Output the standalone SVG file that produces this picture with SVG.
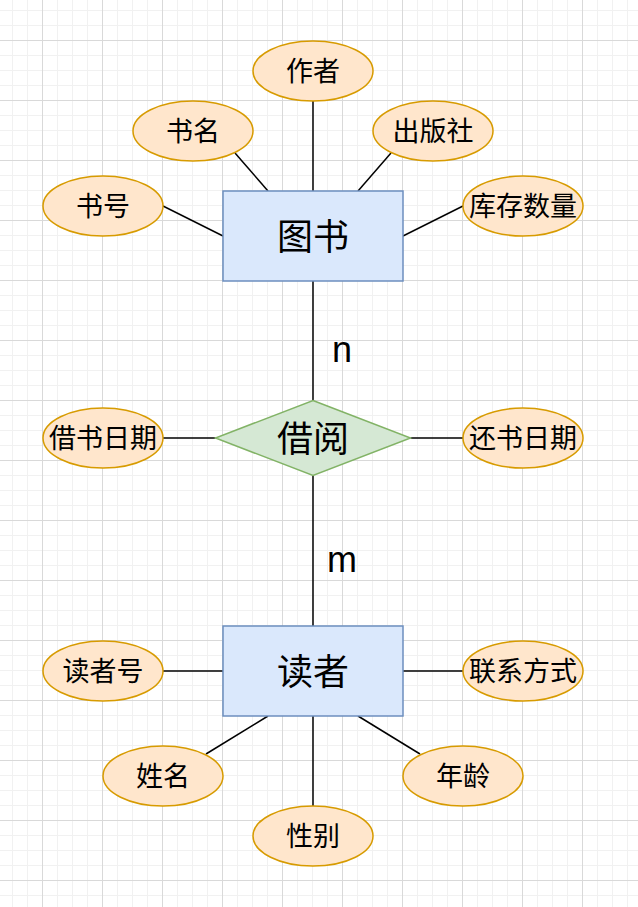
<svg xmlns="http://www.w3.org/2000/svg" width="638" height="907" viewBox="0 0 638 907">
  <defs>
    <pattern id="gridMinor" patternUnits="userSpaceOnUse" x="12" y="10" width="15" height="15">
      <rect x="0" y="0" width="1" height="15" fill="#f1f1f1"/>
      <rect x="0" y="0" width="15" height="1" fill="#f1f1f1"/>
    </pattern>
    <pattern id="gridMajor" patternUnits="userSpaceOnUse" x="42" y="40" width="60" height="60">
      <rect x="0" y="0" width="1" height="60" fill="#d9d9d9"/>
      <rect x="0" y="0" width="60" height="1" fill="#d9d9d9"/>
    </pattern>
  </defs>
  <style>
    .attr { fill: #ffe6cc; stroke: #d79b00; stroke-width: 1.5; }
    .entity { fill: #dae8fc; stroke: #6c8ebf; stroke-width: 1.5; }
    .rel { fill: #d5e8d4; stroke: #82b366; stroke-width: 1.5; }
    .edge { stroke: #000000; stroke-width: 1.5; fill: none; }
    .t { font-family: "Noto Sans CJK SC", "Liberation Sans", sans-serif; fill: #000000; text-anchor: middle; }
    .ts { font-size: 27px; }
    .tl { font-size: 36px; }
    .lbl { font-family: "Liberation Sans", Arial, sans-serif; font-size: 36px; fill: #000000; text-anchor: middle; }
  </style>
  <rect x="0" y="0" width="638" height="907" fill="#ffffff"/>
  <rect x="0" y="0" width="638" height="907" fill="url(#gridMinor)"/>
  <rect x="0" y="0" width="638" height="907" fill="url(#gridMajor)"/>

  <g id="connectors">
    <line class="edge" x1="313" y1="101" x2="313" y2="191"/>
    <line class="edge" x1="235" y1="153" x2="268" y2="191"/>
    <line class="edge" x1="391" y1="153" x2="358" y2="191"/>
    <line class="edge" x1="163" y1="206" x2="223" y2="236"/>
    <line class="edge" x1="463" y1="206" x2="403" y2="236"/>
    <line class="edge" x1="313" y1="281" x2="313" y2="400.5"/>
    <line class="edge" x1="313" y1="475.5" x2="313" y2="626"/>
    <line class="edge" x1="163" y1="438" x2="215.5" y2="438"/>
    <line class="edge" x1="410.5" y1="438" x2="463" y2="438"/>
    <line class="edge" x1="163" y1="671" x2="223" y2="671"/>
    <line class="edge" x1="403" y1="671" x2="463" y2="671"/>
    <line class="edge" x1="206" y1="754" x2="268" y2="716"/>
    <line class="edge" x1="420" y1="754" x2="358" y2="716"/>
    <line class="edge" x1="313" y1="716" x2="313" y2="806"/>
    <text class="lbl" x="342" y="361.5">n</text>
    <text class="lbl" x="342" y="571.5">m</text>
  </g>

  <g id="book">
    <rect class="entity" x="223" y="191" width="180" height="90"/>
    <text class="t tl" x="313" y="249.5">图书</text>
  </g>
  <g id="borrow">
    <polygon class="rel" points="313,400.5 410.5,438 313,475.5 215.5,438"/>
    <text class="t tl" x="313" y="451.5">借阅</text>
  </g>
  <g id="reader">
    <rect class="entity" x="223" y="626" width="180" height="90"/>
    <text class="t tl" x="313" y="684.5">读者</text>
  </g>

  <g id="attr-author">
    <ellipse class="attr" cx="313" cy="71" rx="60" ry="30"/>
    <text class="t ts" x="313" y="81">作者</text>
  </g>
  <g id="attr-title">
    <ellipse class="attr" cx="193" cy="131" rx="60" ry="30"/>
    <text class="t ts" x="193" y="141">书名</text>
  </g>
  <g id="attr-publisher">
    <ellipse class="attr" cx="433" cy="131" rx="60" ry="30"/>
    <text class="t ts" x="433" y="141">出版社</text>
  </g>
  <g id="attr-bookno">
    <ellipse class="attr" cx="103" cy="206" rx="60" ry="30"/>
    <text class="t ts" x="103" y="216">书号</text>
  </g>
  <g id="attr-stock">
    <ellipse class="attr" cx="523" cy="206" rx="60" ry="30"/>
    <text class="t ts" x="523" y="216">库存数量</text>
  </g>
  <g id="attr-borrowdate">
    <ellipse class="attr" cx="103" cy="438" rx="60" ry="30"/>
    <text class="t ts" x="103" y="448">借书日期</text>
  </g>
  <g id="attr-returndate">
    <ellipse class="attr" cx="523" cy="438" rx="60" ry="30"/>
    <text class="t ts" x="523" y="448">还书日期</text>
  </g>
  <g id="attr-readerno">
    <ellipse class="attr" cx="103" cy="671" rx="60" ry="30"/>
    <text class="t ts" x="103" y="681">读者号</text>
  </g>
  <g id="attr-contact">
    <ellipse class="attr" cx="523" cy="671" rx="60" ry="30"/>
    <text class="t ts" x="523" y="681">联系方式</text>
  </g>
  <g id="attr-name">
    <ellipse class="attr" cx="163" cy="776" rx="60" ry="30"/>
    <text class="t ts" x="163" y="786">姓名</text>
  </g>
  <g id="attr-age">
    <ellipse class="attr" cx="463" cy="776" rx="60" ry="30"/>
    <text class="t ts" x="463" y="786">年龄</text>
  </g>
  <g id="attr-gender">
    <ellipse class="attr" cx="313" cy="836" rx="60" ry="30"/>
    <text class="t ts" x="313" y="846">性别</text>
  </g>
</svg>
